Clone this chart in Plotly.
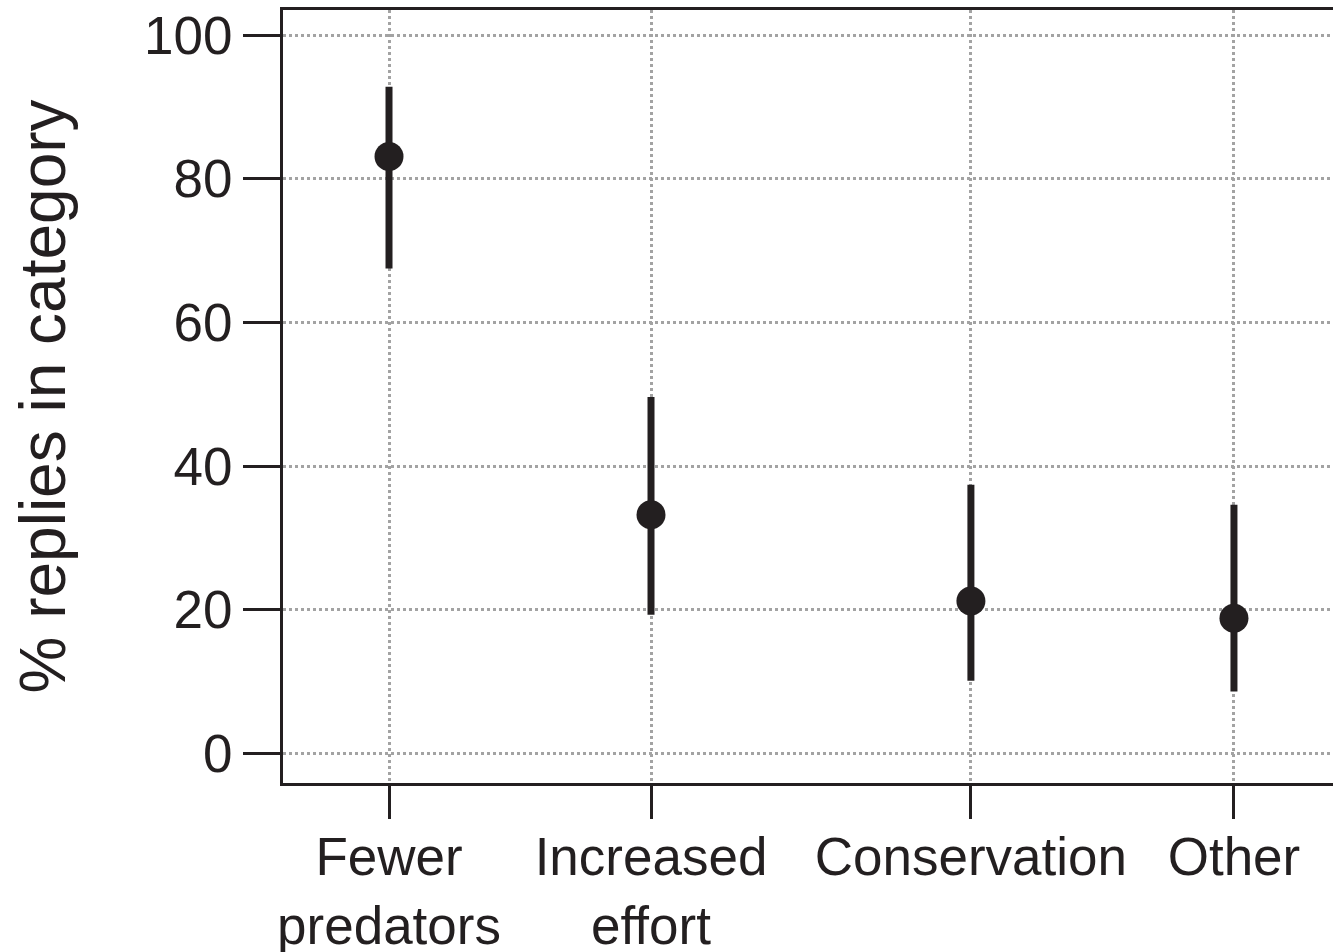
import plotly.graph_objects as go

# Data
categories = ["Fewer<br>predators", "Increased<br>effort", "Conservation", "Other"]
cat_pos = [1.0, 2.0, 3.221, 4.225]          # horizontal placement of each category
pct = [83.1, 33.2, 21.2, 18.8]               # % replies in category
ci_low = [67.5, 19.3, 10.1, 8.6]
ci_high = [92.8, 49.6, 37.4, 34.6]
y_ticks = [0, 20, 40, 60, 80, 100]

INK = "#231f20"
GRID = "#a3a3a3"
FONT = "Liberation Sans, Arial, Helvetica, sans-serif"

err_plus = [h - v for h, v in zip(ci_high, pct)]
err_minus = [v - l for v, l in zip(pct, ci_low)]

fig = go.Figure()
fig.add_trace(go.Scatter(
    x=cat_pos, y=pct, mode="markers",
    marker=dict(size=29, color=INK, line=dict(width=0)),
    error_y=dict(type="data", symmetric=False, array=err_plus, arrayminus=err_minus,
                 thickness=7, width=0, color=INK),
    showlegend=False, cliponaxis=False,
))

fig.update_layout(
    width=1333, height=952,
    margin=dict(l=283, r=0, t=10, b=169),
    paper_bgcolor="white", plot_bgcolor="white",
    font=dict(family=FONT, color=INK, size=53),
    xaxis=dict(
        range=[0.5954, 4.603],
        tickmode="array", tickvals=cat_pos, ticktext=categories,
        showgrid=True, gridcolor=GRID, gridwidth=3, griddash="dot",
        showline=True, linecolor=INK, linewidth=3, mirror=True,
        ticks="outside", ticklen=33, tickwidth=3, tickcolor=INK,
        tickfont=dict(size=53, color=INK), ticklabelstandoff=-8,
        zeroline=False, fixedrange=True, automargin=False,
    ),
    yaxis=dict(
        range=[-4.13, 103.48],
        tickmode="array", tickvals=y_ticks,
        showgrid=True, gridcolor=GRID, gridwidth=3, griddash="dot",
        showline=True, linecolor=INK, linewidth=3, mirror=False,
        ticks="outside", ticklen=37, tickwidth=3, tickcolor=INK,
        tickfont=dict(size=53, color=INK),
        title=dict(text="% replies in category", font=dict(size=64, color=INK), standoff=58),
        zeroline=False, fixedrange=True, automargin=False,
    ),
)

fig.write_html("out.html")
